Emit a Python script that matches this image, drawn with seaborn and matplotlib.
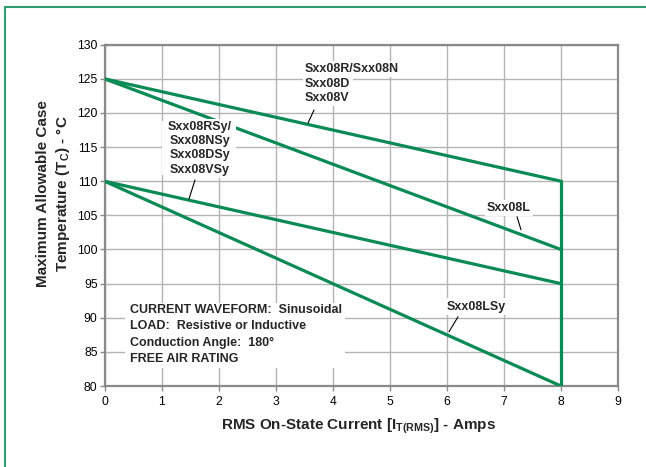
import matplotlib
matplotlib.use('Agg')
import matplotlib.pyplot as plt
import seaborn as sns
import pandas as pd
from matplotlib.patches import Rectangle

# curve end points
current = [0, 8]
temp_r = [125, 110]      # Sxx08R/Sxx08N, Sxx08D, Sxx08V
temp_l = [125, 100]      # Sxx08L
temp_rsy = [110, 95]     # Sxx08RSy/NSy/DSy/VSy
temp_lsy = [110, 80]     # Sxx08LSy
limit_current = [8, 8]
limit_temp = [80, 110]

x_ticks = list(range(0, 10))
y_ticks = list(range(80, 131, 5))

series_names = ['R', 'L', 'RSy', 'LSy', 'limit']
series_x = [current, current, current, current, limit_current]
series_y = [temp_r, temp_l, temp_rsy, temp_lsy, limit_temp]

rows = []
for name, xs, ys in zip(series_names, series_x, series_y):
    for i, (a, b) in enumerate(zip(xs, ys)):
        rows.append({'series': name, 'order': i, 'current': a, 'temp': b})
df = pd.DataFrame(rows)

sns.set_theme(style='white')
plt.rcParams['font.family'] = ['Liberation Sans', 'DejaVu Sans']
plt.rcParams['mathtext.fontset'] = 'custom'
plt.rcParams['mathtext.rm'] = 'Liberation Sans'
plt.rcParams['mathtext.bf'] = 'Liberation Sans:bold'

green = '#0a8a55'
grid_c = '#b4b4b4'
spine_c = '#8a8a8a'

fig = plt.figure(figsize=(6.46, 4.67), dpi=100)
ax = fig.add_axes([0.1618, 0.1734, 0.7949, 0.7309])

sns.lineplot(data=df, x='current', y='temp', units='series', estimator=None,
             sort=False, color=green, linewidth=2.3, ax=ax, zorder=3)

ax.set_xlim(0, 9)
ax.set_ylim(80, 130)
ax.set_xticks(x_ticks)
ax.set_yticks(y_ticks)
ax.grid(True, color=grid_c, linewidth=1.0, zorder=0)
ax.set_axisbelow(True)
for s in ax.spines.values():
    s.set_color(spine_c)
    s.set_linewidth(1.6)
ax.tick_params(axis='both', which='major', direction='out', length=3.5, width=1.0,
               color=spine_c, labelsize=8.7, labelcolor='black', pad=1.5,
               bottom=True, left=True)
ax.tick_params(axis='x', pad=4)
ax.set_xlabel('')
ax.set_ylabel('')

# axis titles
fig.text(0.555, 0.088, r'RMS On-State Current [I$_{\mathbf{T(RMS)}}$] - Amps',
         ha='center', va='center', fontsize=11, fontweight='bold')
fig.text(0.066, 0.585, 'Maximum Allowable Case', rotation=90,
         ha='center', va='center', fontsize=11, fontweight='bold')
fig.text(0.097, 0.585, r'Temperature (T$_{\mathbf{C}}$) - °C', rotation=90,
         ha='center', va='center', fontsize=11, fontweight='bold')

box = dict(facecolor='white', edgecolor='none', pad=1.5)
lab = dict(fontsize=9, fontweight='bold', va='center', zorder=5)

# Sxx08R group
for txt, yy in zip(['Sxx08R/Sxx08N', 'Sxx08D', 'Sxx08V'], [126.44, 124.25, 122.2]):
    ax.text(3.515, yy, txt, ha='left', bbox=box, **lab)
ax.plot([3.672, 3.567], [120.43, 118.53], color='black', lw=0.8, zorder=4)

# Sxx08RSy group
for txt, yy in zip(['Sxx08RSy/', 'Sxx08NSy', 'Sxx08DSy', 'Sxx08VSy'],
                   [117.95, 115.9, 113.85, 111.65]):
    ax.text(1.674, yy, txt, ha='center', bbox=box, **lab)
ax.add_patch(Rectangle((1.0, 110.9), 1.3, 7.9, facecolor='white', edgecolor='none', zorder=4))
ax.plot([1.586, 1.481], [110.19, 107.41], color='black', lw=0.8, zorder=4)

# Sxx08L
ax.text(7.09, 106.05, 'Sxx08L', ha='center', bbox=box, **lab)
ax.plot([7.23, 7.30], [104.79, 102.89], color='black', lw=0.8, zorder=4)

# Sxx08LSy
ax.text(6.51, 91.64, 'Sxx08LSy', ha='center', bbox=box, **lab)
ax.plot([6.196, 6.038], [90.15, 87.95], color='black', lw=0.8, zorder=4)

# conditions box
ax.add_patch(Rectangle((0.36, 82.66), 3.86, 9.52, facecolor='white',
                       edgecolor='none', zorder=2))
cond = ['CURRENT WAVEFORM:  Sinusoidal', 'LOAD:  Resistive or Inductive',
        'Conduction Angle:  180°', 'FREE AIR RATING']
for txt, yy in zip(cond, [91.16, 88.72, 86.28, 83.94]):
    ax.text(0.447, yy, txt, ha='left', **lab)

# outer frame
fig.patches.append(Rectangle((5 / 646, -0.1), 1.2, 1 - 7 / 467 + 0.1,
                             transform=fig.transFigure, fill=False,
                             edgecolor='#2f9e6e', linewidth=1.5, zorder=0))

fig.savefig('out.png', dpi=100)
